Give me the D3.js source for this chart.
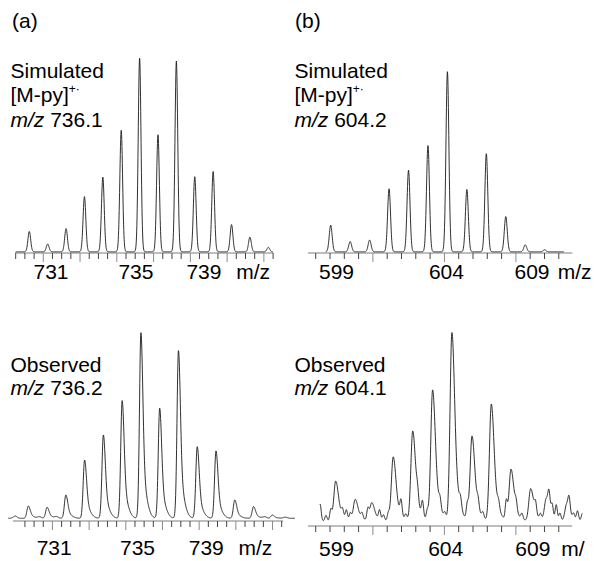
<!DOCTYPE html>
<html>
<head>
<meta charset="utf-8">
<script src="https://cdn.jsdelivr.net/npm/d3@7"></script>
<style>
  body { margin: 0; background: #fff; }
  svg text { font-family: "Liberation Sans", Arial, Helvetica, sans-serif; font-size: 21px; fill: #000; }
</style>
</head>
<body>
<script>

// (a) simulated [M-py]+. m/z 736.1 : peak m/z and relative intensity (%)
const simMzA  = [729, 730, 731, 732, 733, 734, 735, 736, 737, 738, 739, 740, 741, 742];
const simIntA = [10.5, 4.0, 12.0, 28.5, 38.6, 62.8, 100, 60.5, 98.6, 38.8, 41.5, 14.1, 7.6, 2.3];

// (a) observed m/z 736.2
const obsMzA  = [729, 730, 731, 732, 733, 734, 735, 736, 737, 738, 739, 740, 741, 742];
const obsIntA = [6.6, 5.9, 12.6, 31.4, 44.9, 63.4, 100, 59.3, 90.3, 38.6, 36.3, 9.9, 6.3, 1.8];
const obsNoiseA = [[728.3, 1.2], [729.6, 0.8], [730.5, 0.8], [741.6, 0.8], [742.7, 0.6]];

// (b) simulated [M-py]+. m/z 604.2
const simMzB  = [598, 599, 600, 601, 602, 603, 604, 605, 606, 607, 608, 609];
const simIntB = [14.8, 5.7, 6.5, 35.0, 45.3, 59.0, 100, 34.6, 54.5, 19.6, 3.9, 1.1];

// (b) observed m/z 604.1 (noisy)
const obsMzB  = [598.0, 599.0, 599.85, 600.95, 601.95, 602.97, 603.96, 604.99, 605.98, 606.99, 608.0, 608.8, 609.85];
const obsIntB = [21.2, 11.5, 9.7, 34.1, 47.8, 69.6, 100, 45.1, 62.1, 27.5, 17.2, 11.8, 9.0];
// small baseline bumps in the observed (b) trace: [m/z, %]
const obsNoiseB = [
  [597.2, 9], [597.5, 3], [597.75, 6], [598.35, 4], [598.55, 5], [598.75, 4], [599.35, 3],
  [599.65, 6], [600.25, 5], [600.45, 3], [600.7, 4], [601.35, 8], [601.6, 3], [602.2, 6],
  [602.45, 8], [602.7, 5], [603.35, 5], [603.6, 3], [604.4, 5], [604.75, 8], [605.3, 5],
  [605.55, 3], [606.35, 4], [606.75, 10], [607.25, 5], [607.55, 3], [608.25, 6], [608.5, 3],
  [608.94, 9], [609.1, 7], [609.31, 8], [609.5, 4], [609.97, 7], [610.2, 3], [610.4, 5], [610.65, 4]
];

// axis tick labels and where they sit (m/z)
const tickLabelsA = ["731", "735", "739", "m/z"];
const labelMzATop = [730.18, 734.80, 738.50, 741.18];
const labelMzABot = [730.38, 734.82, 738.48, 741.10];
const tickLabelsB = ["599", "604", "609", "m/z"];
const tickLabelsB2 = ["599", "604", "609", "m/"];
const labelMzBTop = [598.30, 603.95, 608.35, 610.54];
const labelMzBBot = [598.04, 603.64, 608.11, 610.17];

const svg = d3.select("body").append("svg")
    .attr("width", 594)
    .attr("height", 561);

const panels = [
  { mz: simMzA, h: simIntA, noise: [], obs: false, sl: 0.075,
    dom: [729, 742], rng: [29.3, 268.3], yr: [251.8, 58.3],
    from: 728.26, to: 742.26, axisY: 253, axisFrom: 728.23, axisTo: 742.28,
    tStart: 728.26, tStep: 0.5, tN: 29, longEvery: 4, longAt: 3,
    labels: tickLabelsA, labelMz: labelMzATop, labelY: 279 },
  { mz: simMzB, h: simIntB, noise: [], obs: false, sl: 0.075,
    dom: [598, 609], rng: [330.7, 544.7], yr: [251.8, 71.7],
    from: 597.74, to: 609.99, axisY: 253, axisFrom: 596.83, axisTo: 610.42,
    tStart: 597.229, tStep: 0.735, tN: 18, longEvery: 5, longAt: 4,
    labels: tickLabelsB, labelMz: labelMzBTop, labelY: 279 },
  { mz: obsMzA, h: obsIntA, noise: obsNoiseA, obs: true, sl: 0.075, sr: 0.1, st: 0.25, nw: 0.1,
    dom: [729, 742], rng: [28.3, 272.3], yr: [518.3, 332.7],
    from: 727.93, to: 743.21, axisY: 521, axisFrom: 728.18, axisTo: 742.57,
    tStart: 728.82, tStep: 0.4886, tN: 29, longEvery: 4, longAt: 3,
    labels: tickLabelsA, labelMz: labelMzABot, labelY: 555 },
  { mz: obsMzB, h: obsIntB, noise: obsNoiseB, obs: true, sl: 0.095, sr: 0.13, st: 0.3, nw: 0.055,
    dom: [598, 608], rng: [335.7, 530.7], yr: [521, 332.7],
    from: 597.19, to: 610.65, axisY: 526, axisFrom: 596.58, axisTo: 610.13,
    tStart: 596.974, tStep: 0.7333, tN: 18, longEvery: 5, longAt: 4,
    labels: tickLabelsB2, labelMz: labelMzBBot, labelY: 556 }
];

// line shape of one spectrum at m/z m
function profile(p, m) {
  let s = 0;
  p.mz.forEach((c, i) => {
    const d = m - c, h = p.h[i];
    if (p.obs && d > 0) {
      s += h * (0.75 * Math.exp(-0.5 * (d / p.sr) ** 2) + 0.25 * Math.exp(-0.5 * (d / p.st) ** 2));
    } else {
      s += h * Math.exp(-0.5 * (d / p.sl) ** 2);
    }
  });
  p.noise.forEach(([c, h]) => { s += h * Math.exp(-0.5 * ((m - c) / p.nw) ** 2); });
  return s;
}

panels.forEach(p => {
  const x = d3.scaleLinear().domain(p.dom).range(p.rng);
  const y = d3.scaleLinear().domain([0, 100]).range(p.yr);
  const g = svg.append("g");

  // axis line
  g.append("line")
      .attr("x1", x(p.axisFrom)).attr("x2", x(p.axisTo))
      .attr("y1", p.axisY).attr("y2", p.axisY)
      .attr("stroke", "#a8a8a8")
      .attr("stroke-width", 1.6);

  // ticks, every longEvery-th one longer and lighter
  const ticks = d3.range(p.tN).map(i => ({ m: p.tStart + i * p.tStep, long: i % p.longEvery === p.longAt }));
  g.selectAll("line.tick")
    .data(ticks)
    .enter()
    .append("line")
      .attr("class", "tick")
      .attr("x1", d => x(d.m)).attr("x2", d => x(d.m))
      .attr("y1", p.axisY)
      .attr("y2", d => p.axisY + (d.long ? 9 : 6))
      .attr("stroke", d => d.long ? "#8a8a8a" : "#444")
      .attr("stroke-width", 1);

  // spectrum trace
  const pts = d3.range(p.from, p.to, 0.01).map(m => [m, profile(p, m)]);
  g.append("path")
      .attr("d", d3.line().x(d => x(d[0])).y(d => y(d[1]))(pts))
      .attr("fill", "none")
      .attr("stroke", "#1a1a1a")
      .attr("stroke-width", 0.9);

  // tick labels
  g.selectAll("text.lab")
    .data(p.labels)
    .enter()
    .append("text")
      .attr("class", "lab")
      .attr("x", (d, i) => x(p.labelMz[i]))
      .attr("y", p.labelY)
      .attr("text-anchor", "middle")
      .text(d => d);
});

// panel annotations
function mzLine(x0, yb, val) {
  const t = svg.append("text").attr("x", x0).attr("y", yb);
  t.append("tspan").attr("font-style", "italic").text("m/z");
  t.append("tspan").text(" " + val);
}
function ionLine(x0, yb) {
  const t = svg.append("text").attr("x", x0).attr("y", yb);
  t.append("tspan").text("[M-py]");
  t.append("tspan").attr("font-size", 12).attr("dy", -9).text("+·");
}

svg.append("text").attr("x", 12).attr("y", 28).text("(a)");
svg.append("text").attr("x", 10.5).attr("y", 78.3).text("Simulated");
ionLine(10.5, 101.7);
mzLine(10.5, 126.7, "736.1");
svg.append("text").attr("x", 10.5).attr("y", 371.7).text("Observed");
mzLine(10.5, 395, "736.2");

svg.append("text").attr("x", 295).attr("y", 28).text("(b)");
svg.append("text").attr("x", 294.5).attr("y", 78.3).text("Simulated");
ionLine(294.5, 101.7);
mzLine(294.5, 126.7, "604.2");
svg.append("text").attr("x", 294.5).attr("y", 371.7).text("Observed");
mzLine(294.5, 395, "604.1");

</script>
</body>
</html>
